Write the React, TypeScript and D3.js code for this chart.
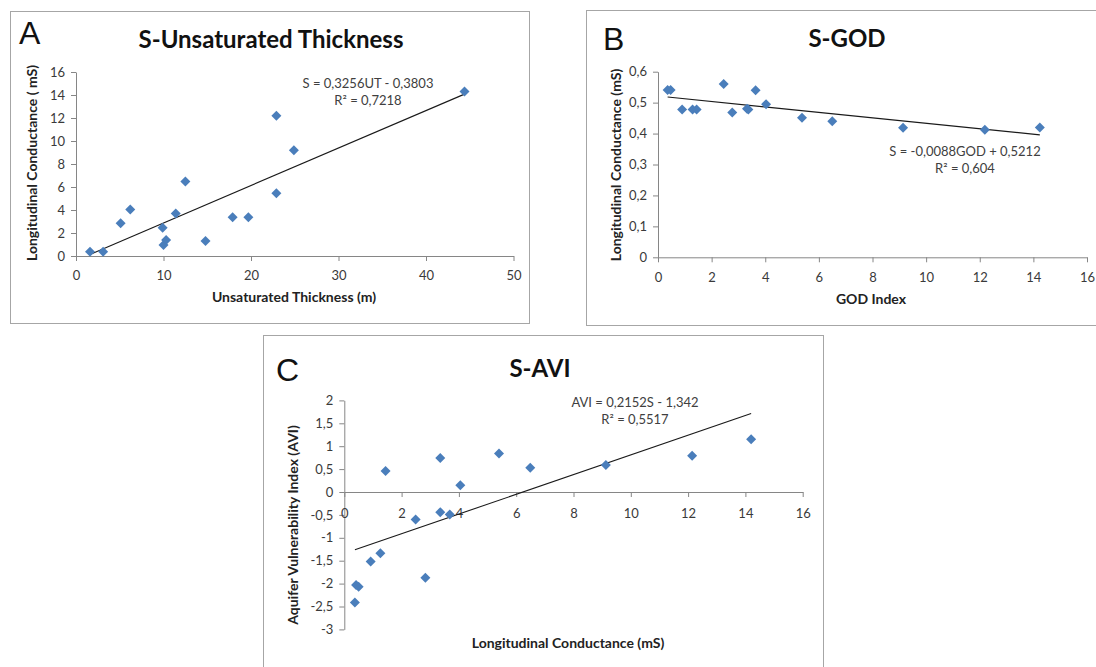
import React, { useRef, useEffect } from 'react';
import * as d3 from 'd3';

// --- Panel A: S vs unsaturated thickness ---
const thicknessA = [1.6, 3.1, 5.1, 6.2, 9.9, 10.0, 10.3, 11.4, 12.5, 14.8, 17.9, 19.7, 22.9, 22.9, 24.9, 44.4];
const conductanceA = [0.38, 0.38, 2.84, 4.05, 2.46, 0.95, 1.39, 3.7, 6.48, 1.3, 3.36, 3.36, 12.2, 5.45, 9.2, 14.3];
const xTicksA = [0, 10, 20, 30, 40, 50];
const yTicksA = [0, 2, 4, 6, 8, 10, 12, 14, 16];
const trendA = [0.3256, -0.3803];

// --- Panel B: S vs GOD index ---
const godIndexB = [0.36, 0.47, 0.9, 1.29, 1.44, 2.45, 2.77, 3.32, 3.37, 3.64, 4.03, 5.37, 6.5, 9.14, 12.19, 14.24];
const conductanceB = [0.541, 0.541, 0.478, 0.478, 0.478, 0.56, 0.468, 0.48, 0.478, 0.54, 0.495, 0.451, 0.44, 0.419, 0.412, 0.42];
const xTicksB = [0, 2, 4, 6, 8, 10, 12, 14, 16];
const yTicksB = [0, 0.1, 0.2, 0.3, 0.4, 0.5, 0.6];
const trendB = [-0.0088, 0.5212];

// --- Panel C: AVI vs S ---
const conductanceC = [0.37, 0.41, 0.5, 0.92, 1.26, 1.44, 2.49, 2.83, 3.35, 3.35, 3.68, 4.05, 5.4, 6.49, 9.13, 12.14, 14.2];
const aviC = [-2.41, -2.03, -2.07, -1.52, -1.34, 0.46, -0.6, -1.87, 0.74, -0.44, -0.49, 0.15, 0.84, 0.53, 0.59, 0.79, 1.15];
const xTicksC = [0, 2, 4, 6, 8, 10, 12, 14, 16];
const yTicksC = [-3, -2.5, -2, -1.5, -1, -0.5, 0, 0.5, 1, 1.5, 2];
const trendC = [0.2152, -1.342];

const FONT = 'Lato, "Open Sans", sans-serif';
const fmt = d3.formatLocale({ decimal: ',', thousands: '.', grouping: [3], currency: ['', ''], minus: '-' }).format('~g');

const panels = [
  {
    letter: 'A', frame: [10, 11, 519, 312], letterPos: [19, 44],
    title: 'S-Unsaturated Thickness', titlePos: [271, 48],
    xs: thicknessA, ys: conductanceA, xTicks: xTicksA, yTicks: yTicksA, trend: trendA,
    xRange: [76, 513.5], yRange: [256, 72],
    xLabel: 'Unsaturated Thickness  (m)', xLabelPos: [294, 302],
    yLabel: 'Longitudinal Conductance  ( mS)', yLabelPos: [32, 163],
    eq: ['S = 0,3256UT - 0,3803', 'R² = 0,7218'], eqPos: [368, 88],
    xAxisAt: null, xPad: 10,
  },
  {
    letter: 'B', frame: [586, 10, 530, 315], letterPos: [603, 50],
    title: 'S-GOD', titlePos: [847, 47],
    xs: godIndexB, ys: conductanceB, xTicks: xTicksB, yTicks: yTicksB, trend: trendB,
    xRange: [658, 1087], yRange: [257.3, 71.7],
    xLabel: 'GOD Index', xLabelPos: [871, 304],
    yLabel: 'Longitudinal Conductance  (mS)', yLabelPos: [616, 165],
    eq: ['S = -0,0088GOD + 0,5212', 'R² = 0,604'], eqPos: [965, 156],
    xAxisAt: null, xPad: 10,
  },
  {
    letter: 'C', frame: [263, 335, 560, 345], letterPos: [276, 381],
    title: 'S-AVI', titlePos: [540, 377],
    xs: conductanceC, ys: aviC, xTicks: xTicksC, yTicks: yTicksC, trend: trendC,
    xRange: [344.3, 802.7], yRange: [629.4, 400.4],
    xLabel: 'Longitudinal  Conductance  (mS)', xLabelPos: [568, 648],
    yLabel: 'Aquifer Vulnerability Index (AVI)', yLabelPos: [293, 525],
    eq: ['AVI = 0,2152S - 1,342', 'R² = 0,5517'], eqPos: [635, 407],
    xAxisAt: 0, xPad: 12,
  },
];

const App = () => {
  const svgRef = useRef(null);

  useEffect(() => {
    const svg = d3.select(svgRef.current).html('');
    svg.append('rect').attr('width', 1096).attr('height', 667).attr('fill', '#fff');

    panels.forEach((p) => {
      const g = svg.append('g');
      const [fx, fy, fw, fh] = p.frame;
      g.append('rect')
        .attr('x', fx + 0.5).attr('y', fy + 0.5).attr('width', fw).attr('height', fh)
        .attr('fill', '#fff').attr('stroke', '#a6a6a6').attr('stroke-width', 1);

      const x = d3.scaleLinear().domain([p.xTicks[0], p.xTicks[p.xTicks.length - 1]]).range(p.xRange);
      const y = d3.scaleLinear().domain([p.yTicks[0], p.yTicks[p.yTicks.length - 1]]).range(p.yRange);

      // y axis
      const yAxis = g.append('g')
        .attr('transform', `translate(${p.xRange[0]},0)`)
        .call(d3.axisLeft(y).tickValues(p.yTicks).tickFormat(fmt).tickSize(5).tickSizeOuter(0).tickPadding(6));

      // x axis (at zero for panel C)
      const xBase = p.xAxisAt === null ? p.yRange[0] : y(p.xAxisAt);
      const xAxis = g.append('g')
        .attr('transform', `translate(0,${xBase})`)
        .call(d3.axisBottom(x).tickValues(p.xTicks).tickFormat(fmt).tickSize(5).tickSizeOuter(0).tickPadding(p.xPad));

      [xAxis, yAxis].forEach((a) => {
        a.selectAll('path,line').attr('stroke', '#868686');
        a.selectAll('text').attr('fill', '#3a3a3a').style('font-family', FONT).style('font-size', '13px');
      });

      // trend line over the data extent
      const [slope, icpt] = p.trend;
      const ext = d3.extent(p.xs);
      g.append('path')
        .datum(ext)
        .attr('fill', 'none').attr('stroke', '#1a1a1a').attr('stroke-width', 1.1)
        .attr('d', d3.line().x((d) => x(d)).y((d) => y(slope * d + icpt)));

      // diamond markers
      const diamond = d3.symbol().type(d3.symbolSquare).size(50);
      g.selectAll('path.pt')
        .data(p.xs.map((v, i) => [v, p.ys[i]]))
        .join('path')
        .attr('class', 'pt')
        .attr('d', diamond)
        .attr('transform', (d) => `translate(${x(d[0])},${y(d[1])}) rotate(45)`)
        .attr('fill', '#4a7ebb');

      // texts
      g.append('text')
        .attr('x', p.letterPos[0]).attr('y', p.letterPos[1])
        .style('font-family', '"Liberation Sans", Arial, sans-serif').style('font-size', '32px')
        .attr('fill', '#111').text(p.letter);

      g.append('text')
        .attr('x', p.titlePos[0]).attr('y', p.titlePos[1]).attr('text-anchor', 'middle')
        .style('font-family', FONT).style('font-size', '24px').style('font-weight', 700)
        .attr('fill', '#111').text(p.title);

      g.append('text')
        .attr('x', p.xLabelPos[0]).attr('y', p.xLabelPos[1]).attr('text-anchor', 'middle')
        .style('font-family', FONT).style('font-size', '14px').style('font-weight', 700)
        .attr('fill', '#222').text(p.xLabel);

      g.append('text')
        .attr('transform', `translate(${p.yLabelPos[0]},${p.yLabelPos[1]}) rotate(-90)`)
        .attr('text-anchor', 'middle').attr('dy', '0.35em')
        .style('font-family', FONT).style('font-size', '14px').style('font-weight', 700)
        .attr('fill', '#222').text(p.yLabel);

      p.eq.forEach((line, i) => {
        g.append('text')
          .attr('x', p.eqPos[0]).attr('y', p.eqPos[1] + i * 17).attr('text-anchor', 'middle')
          .style('font-family', FONT).style('font-size', '13px')
          .attr('fill', '#404040').text(line);
      });
    });
  }, []);

  return (
    <div style={{ position: 'absolute', left: 0, top: 0 }}>
      <svg ref={svgRef} width={1096} height={667} style={{ display: 'block' }}></svg>
    </div>
  );
};

export default App;
